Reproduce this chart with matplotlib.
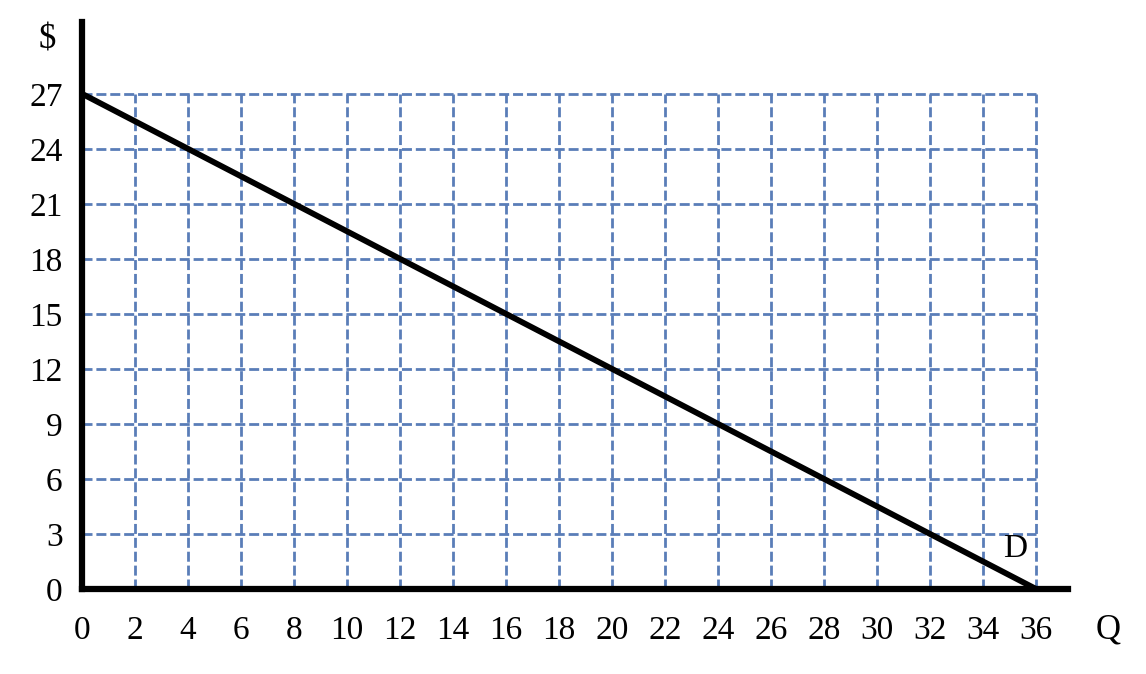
import numpy as np
import matplotlib.pyplot as plt

plt.rcParams['font.family'] = ['Liberation Serif', 'DejaVu Serif']

# demand curve end points
demand_q = [0, 36]
demand_p = [27, 0]

x_ticks = list(range(0, 37, 2))
y_ticks = list(range(0, 28, 3))

grid_color = '#5a7db8'

fig = plt.figure(figsize=(11.46, 6.74), dpi=100)
ax = fig.add_axes([0.0716, 0.126, 0.8604, 0.841])

# dashed grid, only inside the 36 x 27 box
for x in x_ticks[1:]:
    ax.plot([x, x], [0, y_ticks[-1]], color=grid_color, lw=2.0,
            ls=(0, (3.6, 1.4)), zorder=1)
for y in y_ticks[1:]:
    ax.plot([0, x_ticks[-1]], [y, y], color=grid_color, lw=2.0,
            ls=(0, (3.6, 1.4)), zorder=1)

ax.plot(demand_q, demand_p, color='black', lw=4.2, zorder=3,
        solid_capstyle='butt')
ax.text(35.2, 2.2, 'D', fontsize=24, ha='center', va='center')

ax.set_xlim(0, 37.2)
ax.set_ylim(0, 30.9)
ax.set_xticks(x_ticks)
ax.set_yticks(y_ticks)
ax.tick_params(length=0, labelsize=24)
ax.tick_params(axis='x', pad=19)
ax.tick_params(axis='y', pad=14)

for s in ['top', 'right']:
    ax.spines[s].set_visible(False)
for s in ['left', 'bottom']:
    ax.spines[s].set_linewidth(4.5)

fig.text(47 / 1146, 1 - 40 / 674, '$', fontsize=25, ha='center', va='center')
fig.text(1108 / 1146, 1 - 630 / 674, 'Q', fontsize=25, ha='center', va='center')

fig.savefig('out.png', dpi=100)
